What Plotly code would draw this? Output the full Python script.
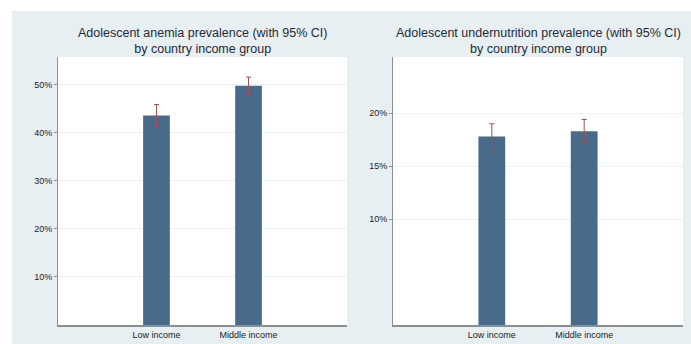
import plotly.graph_objects as go

# Data: prevalence (%) with 95% confidence interval bounds
groups = ["Low income", "Middle income"]

anemia = [43.6, 49.8]
anemia_lo = [41.4, 47.9]
anemia_hi = [45.9, 51.6]

undernut = [17.8, 18.3]
undernut_lo = [16.5, 17.2]
undernut_hi = [19.0, 19.4]

anemia_ticks = [10, 20, 30, 40, 50]
undernut_ticks = [10, 15, 20]

titles = [
    "Adolescent anemia prevalence (with 95% CI)<br>by country income group",
    "Adolescent undernutrition prevalence (with 95% CI)<br>by country income group",
]

W, H = 691, 344
BAR = "#486a8b"
ERR = "#b04a52"
PANEL = "#e8eff3"
FONT = "Liberation Sans, Arial, sans-serif"

# plot-area pixel boxes (left, right, top, bottom)
boxes = [(58, 347, 57, 325), (393, 683, 57, 325)]


def px_x(v):
    return v / W


def px_y(v):
    return 1 - v / H


fig = go.Figure()

for i, (vals, lo, hi) in enumerate([(anemia, anemia_lo, anemia_hi),
                                    (undernut, undernut_lo, undernut_hi)]):
    ax = "" if i == 0 else "2"
    fig.add_trace(go.Bar(
        x=groups, y=vals,
        marker=dict(color=BAR, line=dict(width=0)),
        width=0.29,
        error_y=dict(type="data", symmetric=False,
                     array=[h - v for h, v in zip(hi, vals)],
                     arrayminus=[v - l for v, l in zip(vals, lo)],
                     color=ERR, thickness=1, width=2.5),
        xaxis="x" + ax, yaxis="y" + ax,
        showlegend=False, hoverinfo="skip",
    ))

tickfont = dict(family=FONT, size=9, color="#222")


def xaxis_cfg(box, anchor):
    return dict(domain=[px_x(box[0]), px_x(box[1])], range=[-1.07, 2.07],
                showgrid=False, zeroline=False, showline=True,
                linecolor="#8a8f93", linewidth=2, ticks="",
                tickfont=tickfont, anchor=anchor)


def yaxis_cfg(box, rng, ticks, anchor):
    return dict(domain=[px_y(box[3]), px_y(box[2])], range=rng,
                tickmode="array", tickvals=ticks,
                ticktext=[f"{t}%" for t in ticks],
                showgrid=True, gridcolor="#eef2f4", gridwidth=1,
                zeroline=False, showline=True, linecolor="#8a8f93",
                linewidth=1, ticks="outside", ticklen=3,
                tickcolor="#8a8f93", tickfont=tickfont, anchor=anchor)


shapes = [dict(type="rect", xref="paper", yref="paper",
               x0=px_x(12), x1=1, y0=0, y1=px_y(11),
               fillcolor=PANEL, line=dict(width=0), layer="below")]
for b in boxes:
    shapes.append(dict(type="rect", xref="paper", yref="paper",
                       x0=px_x(b[0]), x1=px_x(b[1]), y0=px_y(b[3]), y1=px_y(b[2]),
                       fillcolor="white", line=dict(width=0), layer="below"))

fig.update_layout(
    width=W, height=H,
    margin=dict(l=0, r=0, t=0, b=0),
    paper_bgcolor="white", plot_bgcolor="white",
    font=dict(family=FONT),
    xaxis=xaxis_cfg(boxes[0], "y"),
    yaxis=yaxis_cfg(boxes[0], [0, 55.8], anemia_ticks, "x"),
    xaxis2=xaxis_cfg(boxes[1], "y2"),
    yaxis2=yaxis_cfg(boxes[1], [0, 25.3], undernut_ticks, "x2"),
    shapes=shapes,
)

# Panel titles centred over each plot area
for b, t in zip(boxes, titles):
    fig.add_annotation(
        text=t, xref="paper", yref="paper", x=px_x((b[0] + b[1]) / 2), y=px_y(41),
        xanchor="center", yanchor="middle", showarrow=False,
        font=dict(family=FONT, size=12.5, color="#1e2a38"),
        align="center",
    )

fig.write_html("out.html")
